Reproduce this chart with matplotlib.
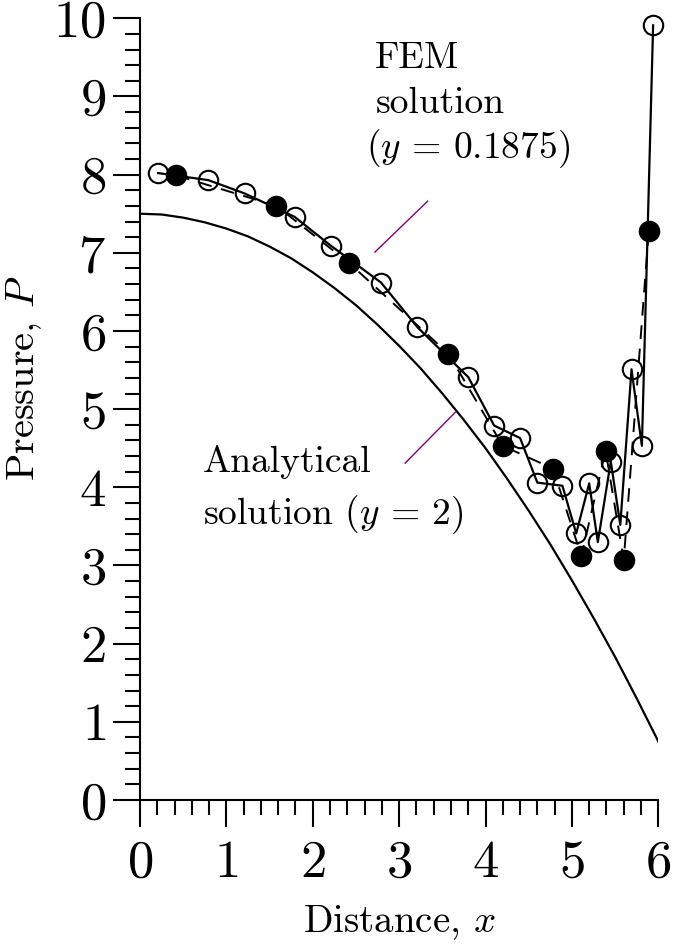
import matplotlib
matplotlib.use("Agg")
import matplotlib.pyplot as plt
from matplotlib.ticker import MultipleLocator

plt.rcParams['font.family'] = ['cmr10', 'DejaVu Serif']
plt.rcParams['mathtext.fontset'] = 'cm'
plt.rcParams['axes.formatter.use_mathtext'] = True

# Analytical solution (y = 2)
x_analytical = [0.0, 0.25, 0.5, 0.75, 1.0, 1.25, 1.5, 1.75, 2.0, 2.25, 2.5, 2.75, 3.0,
                3.25, 3.5, 3.75, 4.0, 4.25, 4.5, 4.75, 5.0, 5.25, 5.5, 5.75, 6.0]
p_analytical = [7.50, 7.49, 7.45, 7.39, 7.31, 7.21, 7.08, 6.93, 6.75, 6.55, 6.33, 6.08, 5.81,
                5.52, 5.20, 4.86, 4.50, 4.11, 3.70, 3.27, 2.81, 2.33, 1.83, 1.30, 0.75]

# FEM solution (y = 0.1875) - open circles (nodal values)
x_open = [0.21, 0.79, 1.21, 1.79, 2.21, 2.79, 3.21, 3.80, 4.10, 4.40, 4.60, 4.89,
          5.05, 5.20, 5.30, 5.45, 5.56, 5.69, 5.81, 5.94]
p_open = [8.02, 7.93, 7.76, 7.46, 7.09, 6.62, 6.05, 5.41, 4.79, 4.63, 4.06, 4.02,
          3.41, 4.05, 3.30, 4.33, 3.52, 5.51, 4.53, 9.91]

# FEM solution - filled circles (element values)
x_filled = [0.42, 1.58, 2.42, 3.57, 4.20, 4.78, 5.11, 5.39, 5.60, 5.89]
p_filled = [7.99, 7.60, 6.87, 5.71, 4.53, 4.24, 3.12, 4.47, 3.07, 7.28]

W, H = 673, 946
fig = plt.figure(figsize=(W / 100, H / 100), dpi=100)
ax = fig.add_axes([140 / W, (H - 800) / H, 518.3 / W, 781.7 / H])

ax.plot(x_analytical, p_analytical, color='black', lw=1.6, zorder=2)
ax.plot(x_filled, p_filled, color='black', lw=1.4, dashes=(7, 5), zorder=3)
ax.plot(x_open, p_open, color='black', lw=1.6, zorder=3)
ax.plot(x_open, p_open, linestyle='none', marker='o', ms=14, mfc='none',
        mec='black', mew=1.5, zorder=4, clip_on=False)
ax.plot(x_filled, p_filled, linestyle='none', marker='o', ms=14.5, mfc='black',
        mec='black', mew=1.0, zorder=5, clip_on=False)

ax.set_xlim(0, 6)
ax.set_ylim(0, 10)
for s in ['top', 'right']:
    ax.spines[s].set_visible(False)
for s in ['left', 'bottom']:
    ax.spines[s].set_linewidth(1.5)

ax.xaxis.set_major_locator(MultipleLocator(1))
ax.xaxis.set_minor_locator(MultipleLocator(0.2))
ax.yaxis.set_major_locator(MultipleLocator(1))
ax.yaxis.set_minor_locator(MultipleLocator(0.2))
ax.tick_params(which='major', direction='out', length=19.5, width=1.5, labelsize=38)
ax.tick_params(which='minor', direction='out', length=10.5, width=1.5)
ax.tick_params(axis='x', which='major', pad=9)
ax.tick_params(axis='y', which='major', pad=5)

ax.set_xlabel('Distance, $x$', fontsize=28, labelpad=12)
ax.set_ylabel('Pressure, $P$', fontsize=29)
ax.yaxis.set_label_coords(-0.185, 0.54)

fs = 27
ax.text(2.72, 9.36, 'FEM', fontsize=fs, ha='left', va='baseline')
ax.text(2.73, 8.79, 'solution', fontsize=fs, ha='left', va='baseline')
ax.text(2.62, 8.21, '($y$ = 0.1875)', fontsize=fs, ha='left', va='baseline')
ax.text(0.73, 4.20, 'Analytical', fontsize=fs, ha='left', va='baseline')
ax.text(0.73, 3.53, 'solution ($y$ = 2)', fontsize=fs, ha='left', va='baseline')

ax.plot([2.72, 3.33], [7.01, 7.66], color='#800080', lw=1.0, zorder=1)
ax.plot([3.07, 3.65], [4.31, 4.96], color='#800080', lw=1.0, zorder=1)

fig.savefig('out.png', dpi=100)
